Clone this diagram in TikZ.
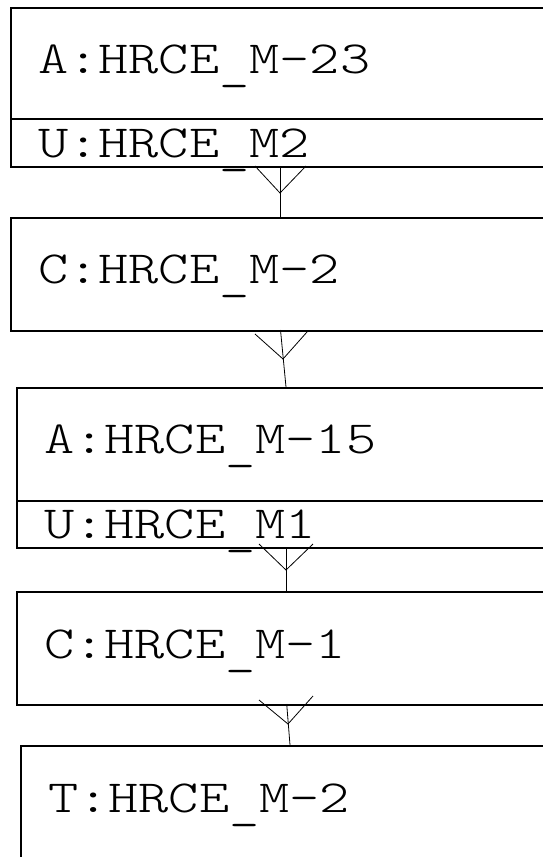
\documentclass[tikz,border=0pt]{standalone}
\usepackage{fontspec}
\newfontfamily\labelfont{Latin Modern Mono Light}[FakeStretch=1.25]
% underscore set a little lower than the font's own
\newcommand\lowscore{\raisebox{-6pt}{\_}}
\begin{document}
\begin{tikzpicture}[x=1pt,y=-1pt,
  box/.style={draw=black,line width=1.6pt,fill=white,rectangle,inner sep=0pt,anchor=north west},
  lbl/.style={font=\labelfont\fontsize{46}{56}\selectfont,inner sep=0pt,anchor=base west},
  conn/.style={draw=black,line width=0.8pt}]
\useasboundingbox (0,0) rectangle (543,857);
\clip (0,0) rectangle (543,857);
\fill[white] (0,0) rectangle (543,857);

% class boxes (they run past the right edge)
\node[box,minimum width=600pt,minimum height=159pt] (a23) at (10,7) {};
\draw[line width=1.6pt] (10,119) -- (610,119);
\node[box,minimum width=600pt,minimum height=113pt] (c2) at (10,217) {};
\node[box,minimum width=600pt,minimum height=160pt] (a15) at (16,387) {};
\draw[line width=1.6pt] (16,501) -- (616,501);
\node[box,minimum width=600pt,minimum height=113pt] (c1) at (16,591) {};
\node[box,minimum width=600pt,minimum height=160pt] (t2) at (20,745) {};

% labels
\node[lbl] (la23) at (38,73) {A:HRCE\lowscore M-23};
\node[lbl] (lu2) at (38,157) {U:HRCE\lowscore M2};
\node[lbl] (lc2) at (38,283) {C:HRCE\lowscore M-2};
\node[lbl] (la15) at (44,453) {A:HRCE\lowscore M-15};
\node[lbl] (lu1) at (44,538) {U:HRCE\lowscore M1};
\node[lbl] (lc1) at (44,658) {C:HRCE\lowscore M-1};
\node[lbl] (lt2) at (48,812) {T:HRCE\lowscore M-2};

% connector end points
\coordinate (e1a) at (280,166);   \coordinate (e1b) at (280,217);
\coordinate (e2a) at (280.5,330); \coordinate (e2b) at (286,387);
\coordinate (e3a) at (286,547);   \coordinate (e3b) at (286,591);
\coordinate (e4a) at (286.7,704); \coordinate (e4b) at (290,745);

% crow's foot vertices and feet
\coordinate (v1) at (280,193); \coordinate (f1l) at (255,166); \coordinate (f1r) at (306,166);
\coordinate (v2) at (283,359); \coordinate (f2l) at (255,334); \coordinate (f2r) at (307,332);
\coordinate (v3) at (286,570); \coordinate (f3l) at (259,544); \coordinate (f3r) at (313,544);
\coordinate (v4) at (288,724); \coordinate (f4l) at (259,700); \coordinate (f4r) at (313,696);

% connectors
\draw[conn] (e1b) -- (e1a);
\draw[conn] (f1l) -- (v1) -- (f1r);
\draw[conn] (e2b) -- (e2a);
\draw[conn] (f2l) -- (v2) -- (f2r);
\draw[conn] (e3b) -- (e3a);
\draw[conn] (f3l) -- (v3) -- (f3r);
\draw[conn] (e4b) -- (e4a);
\draw[conn] (f4l) -- (v4) -- (f4r);
\end{tikzpicture}
\end{document}
